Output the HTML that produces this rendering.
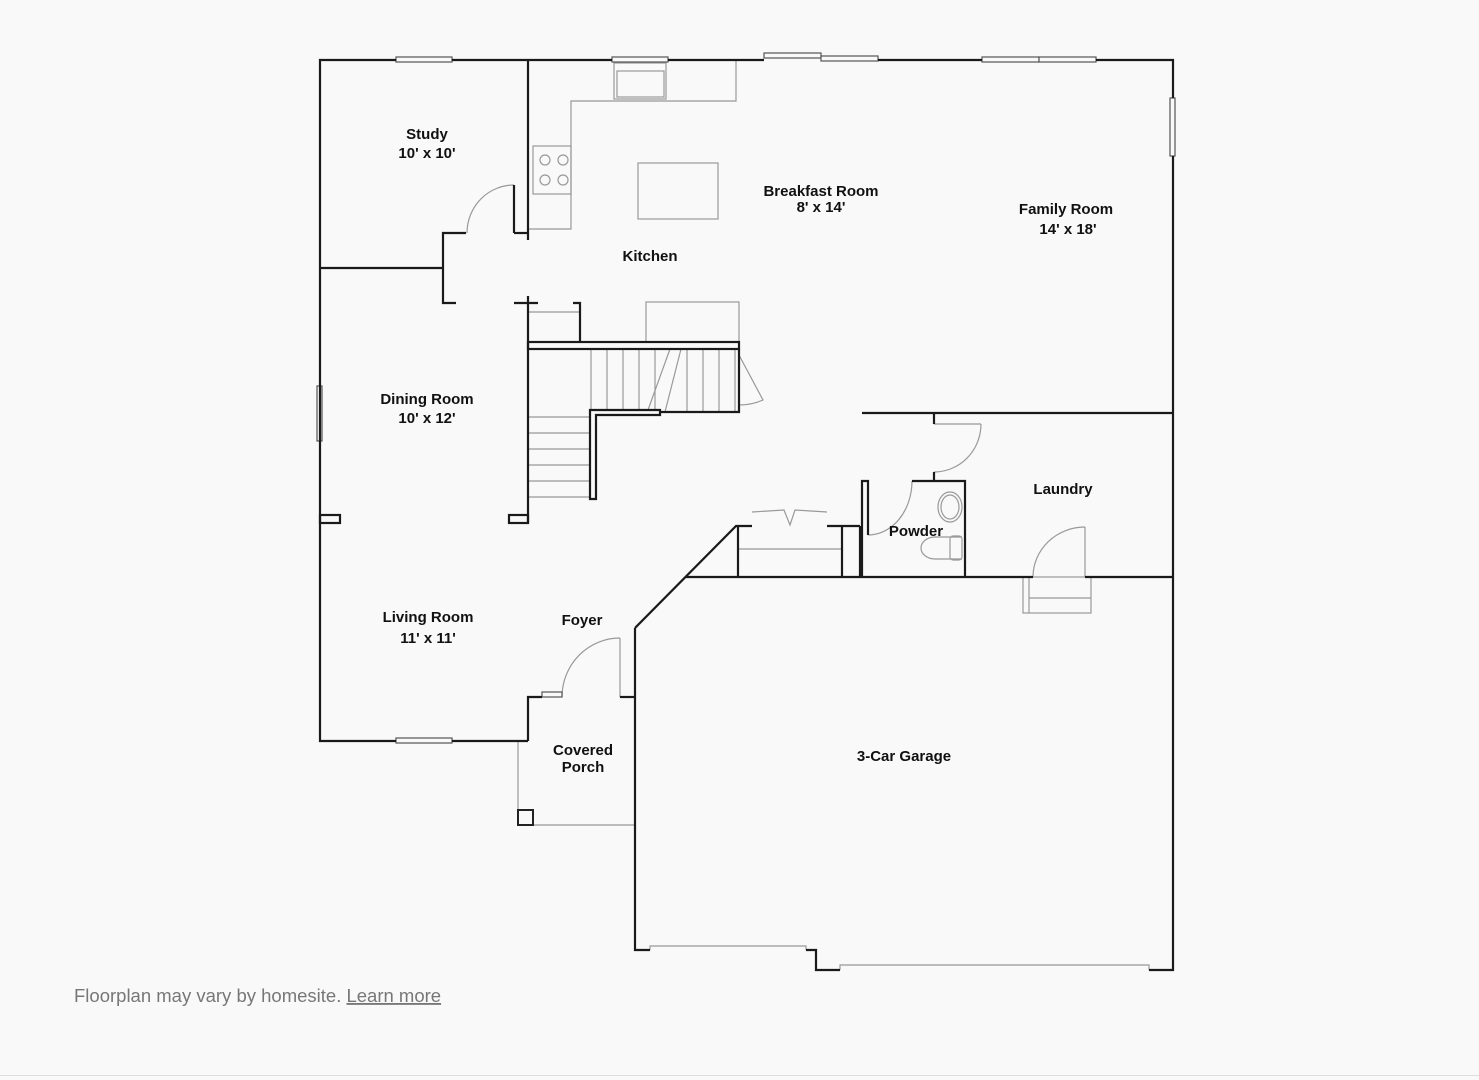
<!DOCTYPE html>
<html><head><style>
body{margin:0;background:#f9f9f9;width:1479px;height:1080px;overflow:hidden;font-family:"Liberation Sans",sans-serif}
svg{position:absolute;left:0;top:0}
</style></head><body>
<svg width="1479" height="1080" viewBox="0 0 1479 1080">
<rect width="1479" height="1080" fill="#f9f9f9"/>
<line x1="0" y1="1075.5" x2="1479" y2="1075.5" stroke="#ddd"/>
<g fill="none" stroke="#999" stroke-width="1.2">
<rect x="614" y="63" width="52" height="36"/><rect x="617" y="71" width="47" height="26"/>
<polyline points="736,60 736,101 571,101 571,229 528,229"/>
<rect x="533" y="146" width="38" height="48"/>
<circle cx="545" cy="160" r="5"/><circle cx="563" cy="160" r="5"/><circle cx="545" cy="180" r="5"/><circle cx="563" cy="180" r="5"/>
<rect x="638" y="163" width="80" height="56"/>
<rect x="646" y="302" width="93" height="40"/>
<line x1="528" y1="312" x2="580" y2="312"/>
<line x1="591" y1="349" x2="591" y2="410"/><line x1="607" y1="349" x2="607" y2="410"/><line x1="623" y1="349" x2="623" y2="410"/><line x1="639" y1="349" x2="639" y2="410"/><line x1="655" y1="349" x2="655" y2="410"/><line x1="687" y1="349" x2="687" y2="412"/><line x1="703" y1="349" x2="703" y2="412"/><line x1="719" y1="349" x2="719" y2="412"/><line x1="735" y1="349" x2="735" y2="412"/>
<polyline points="648,410 670,349"/><polyline points="665,412 681,349"/>
<line x1="528" y1="417" x2="590" y2="417"/><line x1="528" y1="433" x2="590" y2="433"/><line x1="528" y1="449" x2="590" y2="449"/><line x1="528" y1="465" x2="590" y2="465"/><line x1="528" y1="481" x2="590" y2="481"/><line x1="528" y1="497" x2="590" y2="497"/>
<path d="M739 355 L763 400 Q752 405 739 405"/>
<path d="M514 185 A47 48 0 0 0 467 233"/>
<path d="M981 424 A47 48 0 0 1 934 472 M934 424 L981 424"/>
<path d="M868 535 A44 54 0 0 0 912 481"/>
<ellipse cx="950" cy="507" rx="12" ry="15"/><ellipse cx="950" cy="507" rx="9" ry="12"/>
<path d="M962 537 L935 537 A14 11 0 0 0 935 559 L962 559"/><rect x="950" y="536" width="12" height="24" rx="3"/>
<line x1="738" y1="549" x2="842" y2="549"/>
<path d="M752 512 L784 510 L790 525 L795 510 L827 512"/>
<rect x="1023" y="577" width="68" height="36"/><line x1="1029" y1="577" x2="1029" y2="613"/><line x1="1029" y1="598" x2="1091" y2="598"/>
<path d="M1085 527 A52 50 0 0 0 1033 577"/><line x1="1085" y1="527" x2="1085" y2="577"/>
<path d="M620 638 A58 59 0 0 0 562 697"/><line x1="620" y1="638" x2="620" y2="697"/>
<polyline points="518,741 518,825 635,825"/><rect x="518" y="810" width="15" height="15" stroke="#222" stroke-width="2"/>
<polyline points="650,950 650,946 806,946 806,950"/><polyline points="840,970 840,965 1149,965 1149,970"/>
</g>
<g fill="#f9f9f9" stroke="#555" stroke-width="1.2">
<rect x="396" y="57" width="56" height="5"/><rect x="612" y="57" width="56" height="5"/>
<rect x="764" y="53" width="57" height="5"/><rect x="821" y="56" width="57" height="5"/>
<rect x="982" y="57" width="57" height="5"/><rect x="1039" y="57" width="57" height="5"/>
<rect x="1170" y="98" width="5" height="58"/><rect x="317" y="386" width="5" height="55"/>
<rect x="396" y="738" width="56" height="5"/><rect x="542" y="692" width="20" height="5"/>
</g>
<g fill="none" stroke="#1a1a1a" stroke-width="2.2">
<polyline points="396,60 320,60 320,741 396,741"/><line x1="452" y1="60" x2="612" y2="60"/><line x1="668" y1="60" x2="764" y2="60"/><line x1="878" y1="60" x2="982" y2="60"/>
<polyline points="1096,60 1173,60 1173,98"/><polyline points="1173,156 1173,970 1149,970"/>
<line x1="452" y1="741" x2="528" y2="741"/>
<line x1="528" y1="60" x2="528" y2="240"/><line x1="514" y1="233" x2="528" y2="233"/><line x1="514" y1="185" x2="514" y2="233"/>
<line x1="320" y1="268" x2="443" y2="268"/><polyline points="466,233 443,233 443,303 456,303"/>
<line x1="514" y1="303" x2="538" y2="303"/><line x1="528" y1="296" x2="528" y2="523"/>
<rect x="509" y="515" width="19" height="8"/><rect x="320" y="515" width="20" height="8"/>
<polyline points="573,303 580,303 580,342"/>
<rect x="528" y="342" width="211" height="7"/>
<polyline points="739,349 739,412 660,412"/>
<polygon points="590,410 660,410 660,415 596,415 596,499 590,499"/>
<line x1="862" y1="413" x2="1173" y2="413"/><polyline points="934,413 934,424"/><line x1="934" y1="472" x2="934" y2="481"/>
<polyline points="862,577 862,481 868,481 868,535"/><polyline points="912,481 965,481 965,577"/>
<polyline points="635,628 736,526 752,526"/><line x1="827" y1="526" x2="860" y2="526"/>
<line x1="738" y1="526" x2="738" y2="577"/><line x1="842" y1="526" x2="842" y2="577"/><line x1="860" y1="526" x2="860" y2="577"/>
<line x1="685" y1="577" x2="1033" y2="577"/><line x1="1085" y1="577" x2="1173" y2="577"/>
<polyline points="650,950 635,950 635,628"/><polyline points="806,950 816,950 816,970 840,970"/>
<polyline points="542,697 528,697 528,741"/><polyline points="620,697 635,697"/>
</g>
<g font-size="15" font-weight="bold" fill="#111" text-anchor="middle">
<text x="427" y="139">Study</text><text x="427" y="158">10' x 10'</text>
<text x="821" y="196">Breakfast Room</text><text x="821" y="212">8' x 14'</text>
<text x="1066" y="214">Family Room</text><text x="1068" y="234">14' x 18'</text>
<text x="650" y="261">Kitchen</text>
<text x="427" y="404">Dining Room</text><text x="427" y="423">10' x 12'</text>
<text x="1063" y="494">Laundry</text><text x="916" y="536">Powder</text>
<text x="428" y="622">Living Room</text><text x="428" y="643">11' x 11'</text>
<text x="582" y="625">Foyer</text>
<text x="583" y="755">Covered</text><text x="583" y="772">Porch</text>
<text x="904" y="761">3-Car Garage</text>
</g>
<text x="74" y="1002" font-size="18.5" fill="#777">Floorplan may vary by homesite. <tspan text-decoration="underline">Learn more</tspan></text>
</svg>
</body></html>
